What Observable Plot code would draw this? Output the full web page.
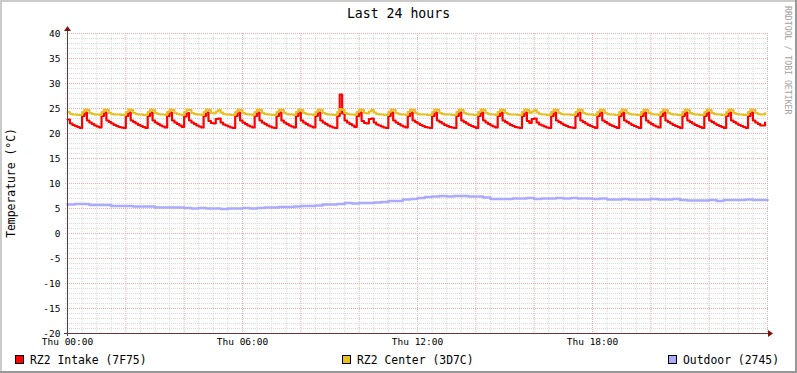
<!DOCTYPE html>
<html><head><meta charset="utf-8">
<script src="https://cdn.jsdelivr.net/npm/d3@7"></script>
<script src="https://cdn.jsdelivr.net/npm/@observablehq/plot@0.6"></script>
<style>
html,body{margin:0;padding:0;background:#fff;}
#chart svg{display:block;}
</style></head><body><div id="chart"></div>
<script>
// ---- data ----
const startTime = Date.UTC(2008, 0, 3, 0, 0); // a Thursday, 00:00
const stepMinutes = 5;          // sampling step of the two rack sensors
const outdoorStepMinutes = 15;  // sampling step of the outdoor sensor

const intake = [
22.8,22.0,21.7,21.5,21.3,21.1,23.5,
24.2,22.6,22.2,21.9,21.6,21.4,21.2,23.5,
24.2,22.6,22.3,22.0,21.7,21.5,21.3,21.2,21.1,23.5,
24.2,22.6,22.3,22.0,21.7,21.5,21.3,21.1,23.5,
24.2,22.6,22.2,21.9,21.6,21.4,21.2,23.5,
24.2,22.6,22.2,21.9,21.6,21.3,23.4,
24.1,22.6,22.2,21.9,21.6,21.4,21.2,23.5,
24.2,22.5,22.1,22.0,22.9,23.0,22.2,21.8,21.6,21.4,21.2,21.1,23.5,
24.2,22.6,22.2,21.9,21.6,21.4,21.2,23.5,
24.2,22.6,22.2,21.9,21.6,21.4,21.2,21.1,23.5,
24.2,22.6,22.2,21.9,21.6,21.4,21.2,23.5,
24.2,22.6,22.2,21.9,21.6,21.4,21.2,23.5,
24.2,22.6,22.2,21.9,21.6,21.4,21.2,21.1,23.5,
27.8,24.0,22.6,22.2,21.9,21.6,21.3,23.5,
24.2,22.5,22.1,22.0,22.9,23.0,22.2,21.8,21.6,21.4,21.2,21.1,23.5,
24.2,22.6,22.2,21.9,21.6,21.4,21.2,23.5,
24.2,22.6,22.3,22.0,21.7,21.5,21.3,21.2,21.1,23.5,
24.2,22.6,22.3,22.0,21.7,21.5,21.3,21.2,21.1,23.5,
24.2,22.6,22.3,22.0,21.7,21.5,21.3,21.1,23.5,
24.2,22.6,22.2,21.9,21.6,21.4,21.2,23.5,
24.2,22.6,22.3,22.0,21.7,21.5,21.3,21.2,21.1,23.5,
24.2,22.5,22.1,22.9,23.0,22.2,21.8,21.6,21.4,21.2,21.1,23.5,
24.2,22.6,22.3,22.0,21.7,21.5,21.3,21.2,21.1,23.5,
24.2,22.6,22.3,22.0,21.7,21.5,21.3,21.1,23.5,
24.2,22.6,22.3,22.0,21.7,21.5,21.3,21.1,23.5,
24.2,22.6,22.3,22.0,21.7,21.5,21.3,21.1,23.5,
24.2,22.6,22.2,21.9,21.6,21.4,21.2,23.5,
24.2,22.6,22.3,22.0,21.7,21.5,21.3,21.1,23.5,
24.2,22.6,22.3,22.0,21.7,21.5,21.3,21.1,23.5,
24.2,22.6,22.3,22.0,21.7,21.5,21.3,21.1,23.5,
24.2,22.6,22.3,22.0,21.7,21.5,21.3,21.1,23.5,
24.2,22.6,22.2,21.9,21.6,21.6,22.2
];

const center = [
24.3,23.9,23.8,23.8,23.7,23.7,24.3,
24.8,24.7,24.1,23.9,23.8,23.8,23.7,24.3,
24.8,24.7,24.1,23.9,23.8,23.8,23.8,23.7,23.7,24.3,
24.8,24.7,24.1,23.9,23.8,23.8,23.7,23.7,24.3,
24.8,24.7,24.1,23.9,23.8,23.8,23.7,24.3,
24.8,24.7,24.1,23.9,23.8,23.7,24.3,
24.8,24.7,24.1,23.9,23.8,23.8,23.7,24.3,
24.8,24.7,24.1,24.0,24.4,24.7,24.2,23.9,23.8,23.8,23.7,23.7,24.3,
24.8,24.7,24.1,23.9,23.8,23.8,23.7,24.3,
24.8,24.7,24.1,23.9,23.8,23.8,23.7,23.7,24.3,
24.8,24.7,24.1,23.9,23.8,23.8,23.7,24.3,
24.8,24.7,24.1,23.9,23.8,23.8,23.7,24.3,
24.8,24.7,24.1,23.9,23.8,23.8,23.7,23.7,24.3,
24.9,24.7,24.1,23.9,23.8,23.8,23.7,24.3,
24.8,24.7,24.1,24.0,24.4,24.7,24.2,23.9,23.8,23.8,23.7,23.7,24.3,
24.8,24.7,24.1,23.9,23.8,23.8,23.7,24.3,
24.8,24.7,24.1,23.9,23.8,23.8,23.8,23.7,23.7,24.3,
24.8,24.7,24.1,23.9,23.8,23.8,23.8,23.7,23.7,24.3,
24.8,24.7,24.1,23.9,23.8,23.8,23.7,23.7,24.3,
24.8,24.7,24.1,23.9,23.8,23.8,23.7,24.3,
24.8,24.7,24.1,23.9,23.8,23.8,23.8,23.7,23.7,24.3,
24.8,24.7,24.1,24.4,24.7,24.2,23.9,23.8,23.8,23.7,23.7,24.3,
24.8,24.7,24.1,23.9,23.8,23.8,23.8,23.7,23.7,24.3,
24.8,24.7,24.1,23.9,23.8,23.8,23.7,23.7,24.3,
24.8,24.7,24.1,23.9,23.8,23.8,23.7,23.7,24.3,
24.8,24.7,24.1,23.9,23.8,23.8,23.7,23.7,24.3,
24.8,24.7,24.1,23.9,23.8,23.8,23.7,24.3,
24.8,24.7,24.1,23.9,23.8,23.8,23.7,23.7,24.3,
24.8,24.7,24.1,23.9,23.8,23.8,23.7,23.7,24.3,
24.8,24.7,24.1,23.9,23.8,23.8,23.7,23.7,24.3,
24.8,24.7,24.1,23.9,23.8,23.8,23.7,23.7,24.3,
24.8,24.7,24.1,23.9,23.8,23.8,24.1
];

const outdoor = [
5.8,5.9,5.9,5.7,5.7,5.7,5.5,5.5,5.5,5.4,5.4,5.4,5.2,5.2,5.2,5.2,
5.1,5.0,5.1,5.0,5.0,4.9,5.0,5.0,5.1,5.0,5.1,5.2,5.2,5.3,5.3,5.4,
5.5,5.5,5.6,5.8,5.8,5.9,6.1,6.0,6.1,6.1,6.2,6.3,6.5,6.5,6.8,6.9,
7.1,7.3,7.4,7.5,7.4,7.5,7.5,7.4,7.4,7.2,6.9,6.9,6.9,7.0,7.0,7.1,
6.9,7.0,7.0,7.1,7.0,7.1,7.0,7.0,6.9,7.0,6.8,6.8,6.9,6.8,6.8,6.8,
6.9,6.8,6.8,6.9,6.7,6.6,6.6,6.6,6.7,6.5,6.7,6.7,6.7,6.8,6.7,6.7,6.7
];

const seriesNames = ["RZ2 Intake (7F75)", "RZ2 Center (3D7C)", "Outdoor (2745)"];
const seriesColors = ["#FF0000", "#E8C020", "#AAAAFF"];

const yMajorTicks = [-20, -15, -10, -5, 0, 5, 10, 15, 20, 25, 30, 35, 40];
const xLabelHours = [0, 6, 12, 18];
const xLabels = ["Thu 00:00", "Thu 06:00", "Thu 12:00", "Thu 18:00"];
const titleText = "Last 24 hours";
const yLabelText = "Temperature (°C)";
const watermarkText = "RRDTOOL / TOBI OETIKER";

// ---- build ----
const HOUR = 3600e3;
const toRows = (arr, stepMin) => arr.map((v, i) => ({t: new Date(startTime + i * stepMin * 60e3), v}));
const intakeRows = toRows(intake, stepMinutes);
const centerRows = toRows(center, stepMinutes);
const outdoorRows = toRows(outdoor, outdoorStepMinutes);

const xMajor = d3.range(0, 25, 2).map(h => new Date(startTime + h * HOUR));
const xMinor = d3.range(0, 24.01, 0.5).filter(h => h % 2 !== 0).map(h => new Date(startTime + h * HOUR));
const yMinor = d3.range(-20, 41, 1).filter(v => v % 5 !== 0);
const labelMap = new Map(xLabelHours.map((h, i) => [startTime + h * HOUR, xLabels[i]]));

const W = 797, H = 373;
const minorCol = "#d9d9d9", majorCol = "#eeaaaa", axisCol = "#5c3838", arrowCol = "#7f1010";
const FONT = "'DejaVu Sans Mono', monospace";

const plot = Plot.plot({
  width: W, height: H,
  marginLeft: 67, marginRight: 30, marginTop: 33, marginBottom: 40,
  style: {fontFamily: FONT, fontSize: "9.5px", background: "white", color: "black", overflow: "visible"},
  x: {type: "utc", domain: [new Date(startTime), new Date(startTime + 24 * HOUR)]},
  y: {domain: [-20, 40]},
  marks: [
    Plot.ruleX(xMinor, {stroke: minorCol, strokeDasharray: "1,1", insetBottom: -2}),
    Plot.ruleX(xMajor, {stroke: majorCol, strokeDasharray: "1,1", insetBottom: -2}),
    Plot.ruleY(yMinor, {stroke: minorCol, strokeDasharray: "1,1", insetLeft: -2, insetRight: -2}),
    Plot.ruleY(yMajorTicks, {stroke: majorCol, strokeDasharray: "1,1", insetLeft: -2, insetRight: -2}),
    Plot.axisY({ticks: yMajorTicks, tickFormat: d => `${d}`, tickSize: 0, tickPadding: 7, label: null}),
    Plot.axisX({ticks: xLabelHours.map(h => new Date(startTime + h * HOUR)), tickFormat: d => labelMap.get(+d), tickSize: 0, tickPadding: 5, label: null}),
    Plot.line(intakeRows, {x: "t", y: "v", stroke: seriesColors[0], strokeWidth: 2.2, curve: "step-after"}),
    Plot.line(centerRows, {x: "t", y: "v", stroke: seriesColors[1], strokeWidth: 2.2, curve: "step-after"}),
    Plot.line(outdoorRows, {x: "t", y: "v", stroke: seriesColors[2], strokeWidth: 2.6, curve: "step-after"}),
    Plot.ruleY([-20], {stroke: axisCol, insetLeft: -3, insetRight: -2}),
    Plot.ruleX([new Date(startTime)], {stroke: axisCol, insetBottom: -3, insetTop: -2})
  ]
});

const svg = d3.select(plot);
const [x0, x1] = plot.scale("x").range;
const [yb, yt] = plot.scale("y").range;

// arrows
svg.append("path").attr("d", `M${x1 + 1},${yb - 3}L${x1 + 6},${yb + 0.5}L${x1 + 1},${yb + 4}Z`).attr("fill", arrowCol);
svg.append("path").attr("d", `M${x0 - 3},${yt - 2}L${x0 + 0.5},${yt - 7}L${x0 + 4},${yt - 2}Z`).attr("fill", arrowCol);

// title
svg.append("text").attr("x", W / 2).attr("y", 18).attr("text-anchor", "middle")
  .attr("font-family", FONT).attr("font-size", "13.2px").attr("fill", "#000").text(titleText);

// y label
svg.append("text").attr("transform", `translate(15,${(yb + yt) / 2}) rotate(-90)`).attr("text-anchor", "middle")
  .attr("font-family", FONT).attr("font-size", "11.4px").attr("fill", "#000").text(yLabelText);

// watermark
svg.append("text").attr("transform", `translate(785,6) rotate(90)`).attr("text-anchor", "start")
  .attr("font-family", FONT).attr("font-size", "8.2px").attr("fill", "#a0a0a0").text(watermarkText);

// legend
const legendX = [15.5, 342.5, 668.5];
seriesNames.forEach((name, i) => {
  svg.append("rect").attr("x", legendX[i]).attr("y", 355.5).attr("width", 8).attr("height", 8)
    .attr("fill", seriesColors[i]).attr("stroke", "#000").attr("stroke-width", 1);
  svg.append("text").attr("x", legendX[i] + 14.5).attr("y", 363.5).attr("text-anchor", "start")
    .attr("font-family", FONT).attr("font-size", "11.4px").attr("fill", "#000").text(name);
});

// frame shading
svg.append("path").attr("d", `M0,0H${W}V2H2V${H}H0Z`).attr("fill", "#CBCBCB");
svg.append("path").attr("d", `M${W},0V${H}H0V${H - 2}H${W - 2}V0Z`).attr("fill", "#999999");

document.getElementById("chart").appendChild(plot);
</script>
</body></html>
